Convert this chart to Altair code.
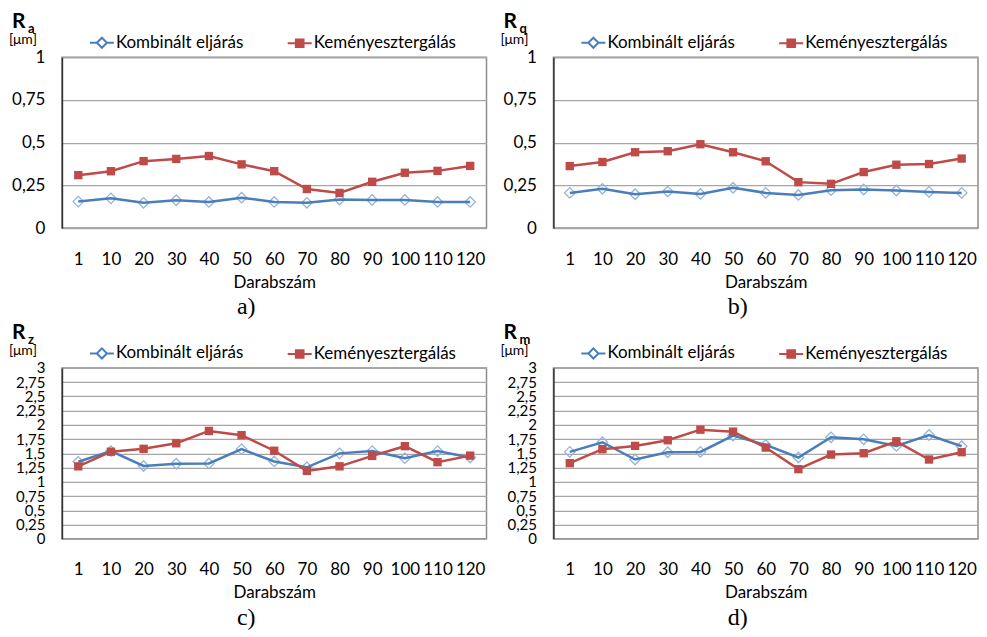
import altair as alt
import pandas as pd

darab = ["1", "10", "20", "30", "40", "50", "60", "70", "80", "90", "100", "110", "120"]
series_names = ["Kombinált eljárás", "Keményesztergálás"]

ra_komb = [0.155, 0.174, 0.148, 0.163, 0.153, 0.178, 0.153, 0.148, 0.167, 0.165, 0.165, 0.153, 0.153]
ra_kem = [0.31, 0.333, 0.392, 0.405, 0.422, 0.373, 0.333, 0.229, 0.206, 0.271, 0.324, 0.335, 0.364]

rq_komb = [0.206, 0.23, 0.198, 0.214, 0.2, 0.236, 0.206, 0.194, 0.222, 0.226, 0.22, 0.212, 0.206]
rq_kem = [0.363, 0.387, 0.444, 0.45, 0.491, 0.444, 0.391, 0.269, 0.259, 0.328, 0.371, 0.375, 0.407]

rz_komb = [1.352, 1.54, 1.278, 1.318, 1.323, 1.574, 1.358, 1.255, 1.5, 1.54, 1.415, 1.54, 1.426]
rz_kem = [1.272, 1.529, 1.58, 1.677, 1.894, 1.82, 1.546, 1.192, 1.272, 1.455, 1.626, 1.346, 1.46]

rm_komb = [1.526, 1.695, 1.392, 1.52, 1.526, 1.811, 1.648, 1.427, 1.782, 1.747, 1.631, 1.823, 1.625]
rm_kem = [1.328, 1.573, 1.631, 1.73, 1.916, 1.881, 1.602, 1.223, 1.479, 1.503, 1.712, 1.392, 1.52]

ticks_small = [0, 0.25, 0.5, 0.75, 1]
ticks_large = [0, 0.25, 0.5, 0.75, 1, 1.25, 1.5, 1.75, 2, 2.25, 2.5, 2.75, 3]

BLUE = "#4A7EBB"
BLUE_LIGHT = "#95B3D7"
RED = "#BE4B48"
FONT = "Lato"

PATH_BLUE = "M-1,0L-0.42,0M0.42,0L1,0M-0.42,0L0,-0.42L0.42,0L0,0.42Z"
PATH_RED = "M-1,0L1,0M-0.32,-0.32L0.32,-0.32L0.32,0.32L-0.32,0.32Z"

W = 425
H = 171


def panel(komb, kem, sub, ymax, ticks, letter, ylab_size):
    df = pd.DataFrame({
        "x": darab * 2,
        "y": komb + kem,
        "s": [series_names[0]] * len(darab) + [series_names[1]] * len(darab),
    })
    base = alt.Chart(df)
    xenc = alt.X(
        "x:N", sort=darab,
        scale=alt.Scale(type="point", padding=0.5),
        axis=alt.Axis(title="Darabszám", labelAngle=0, ticks=False, domain=False,
                      labelPadding=23, titlePadding=7, labelFont=FONT, labelFontSize=17,
                      labelColor="#000", titleFont=FONT, titleFontSize=17,
                      titleFontWeight="normal", titleColor="#000", labelOverlap=False),
    )
    yenc = alt.Y(
        "y:Q",
        scale=alt.Scale(domain=[0, ymax], nice=False, zero=True),
        axis=alt.Axis(title=None, values=ticks, ticks=False, grid=True,
                      gridColor="#A6A6A6", gridWidth=1.3,
                      domain=True, domainColor="#333333", domainWidth=1.5,
                      labelExpr="replace(format(datum.value, '~g'), '.', ',')",
                      labelFont=FONT, labelFontSize=ylab_size, labelColor="#000",
                      labelPadding=17, labelOverlap=False, labelFlush=False),
    )
    blue = base.transform_filter(alt.datum.s == series_names[0])
    red = base.transform_filter(alt.datum.s == series_names[1])

    blue_pts = blue.mark_point(shape="diamond", filled=False, size=110, stroke=BLUE_LIGHT,
                               strokeWidth=1.3, opacity=1).encode(x=xenc, y=yenc)
    blue_line = blue.mark_line(color=BLUE, strokeWidth=2.5).encode(x=xenc, y=yenc)
    red_line = red.mark_line(color=RED, strokeWidth=2.5).encode(x=xenc, y=yenc)
    red_pts = red.mark_square(color=RED, size=70, opacity=1).encode(x=xenc, y=yenc)

    leg = alt.Legend(title=None, orient="none", legendX=27, legendY=-28, direction="horizontal",
                     symbolSize=576, symbolStrokeWidth=2, symbolOpacity=1,
                     labelFont=FONT, labelFontSize=17, labelColor="#000",
                     columnPadding=40, labelOffset=1)
    legend_layer = base.mark_point(opacity=0, filled=True).encode(
        x=xenc, y=yenc,
        shape=alt.Shape("s:N", scale=alt.Scale(domain=series_names, range=[PATH_BLUE, PATH_RED]), legend=leg),
        stroke=alt.Stroke("s:N", scale=alt.Scale(domain=series_names, range=[BLUE, RED]), legend=leg),
        fill=alt.Fill("s:N", scale=alt.Scale(domain=series_names, range=["#FFFFFF", RED]), legend=leg),
    )

    one = alt.Chart(pd.DataFrame({"t": ["R"]}))
    r_txt = one.mark_text(text="R", font=FONT, fontSize=21, fontWeight="bold", align="left",
                          baseline="alphabetic", color="#000").encode(x=alt.value(-50), y=alt.value(-29))
    sub_txt = one.mark_text(text=sub, font=FONT, fontSize=13, fontWeight="bold", align="left",
                            baseline="alphabetic", color="#000").encode(x=alt.value(-34), y=alt.value(-24))
    unit_txt = one.mark_text(text="[μm]", font=FONT, fontSize=14, align="left",
                             baseline="alphabetic", color="#000").encode(x=alt.value(-53), y=alt.value(-13))

    return alt.layer(blue_pts, blue_line, red_line, red_pts, legend_layer, r_txt, sub_txt, unit_txt).properties(
        width=W, height=H,
        title=alt.TitleParams(text=letter, orient="bottom", font="Liberation Serif", fontSize=24,
                              fontWeight="normal", color="#000", dx=-28, offset=5),
    )


pa = panel(ra_komb, ra_kem, "a", 1, ticks_small, "a)", 17)
pb = panel(rq_komb, rq_kem, "q", 1, ticks_small, "b)", 17)
pc = panel(rz_komb, rz_kem, "z", 3, ticks_large, "c)", 15)
pd_ = panel(rm_komb, rm_kem, "m", 3, ticks_large, "d)", 15)

indep = dict(shape="independent", stroke="independent", fill="independent")

row1 = alt.hconcat(pa, pb, spacing=12).resolve_scale(**indep).resolve_legend(**indep)
row2 = alt.hconcat(pc, pd_, spacing=12).resolve_scale(**indep).resolve_legend(**indep)

chart = alt.vconcat(row1, row2, spacing=1).resolve_scale(**indep).resolve_legend(**indep).properties(
    padding={"left": 0, "top": 2, "right": 0, "bottom": 0},
    background="white",
).configure_view(stroke="#8C8C8C", strokeWidth=1.5)

chart.save("out.html", embed_options={"renderer": "svg", "actions": False})
